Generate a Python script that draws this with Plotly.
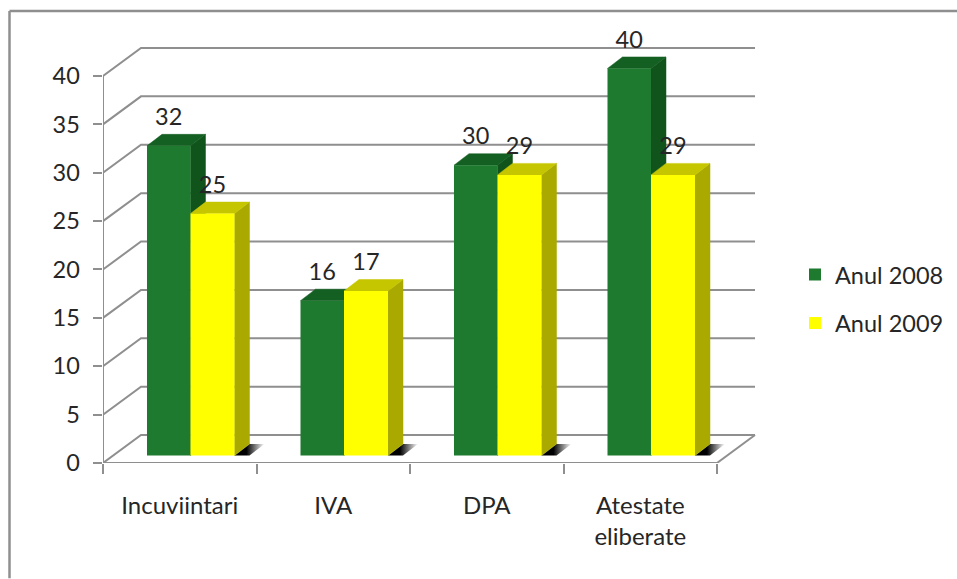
import plotly.graph_objects as go

categories = ["Incuviintari", "IVA", "DPA", "Atestate<br>eliberate"]
anul_2008 = [32, 16, 30, 40]
anul_2009 = [25, 17, 29, 29]
y_ticks = [0, 5, 10, 15, 20, 25, 30, 35, 40]

GRAY = "#8f8f8f"
TEXT = "#262626"
FONT = "Lato"
FS = 23.5

# oblique projection constants, in axis units
WALL_DX, WALL_DY = 0.2476, 2.89
BAR_DX, BAR_DY = 0.0977, 1.19
BASE = 0.774
G_OFF, G_W = -0.2134, 0.2834
Y_OFF, Y_W = 0.0700, 0.2866
SHADOW_W = 0.0977

# plot box in window pixels
L, R, T, B = 103, 957, 30, 463.5
W, H = R - L, B - T
X_MAX = -0.5 + W / 153.5
Y_MAX = H / 9.6875
px = lambda v: (v - L) / W
py = lambda v: (B - v) / H

fig = go.Figure()

# back wall + depth lines
gx, gy = [], []
for t in y_ticks:
    gx += [-0.5, -0.5 + WALL_DX, 3.5 + WALL_DX, None]
    gy += [t, t + WALL_DY, t + WALL_DY, None]
gx += [3.5, 3.5 + WALL_DX, None, -0.5, 3.5, None, -0.5, -0.5]
gy += [0, WALL_DY, None, 0, 0, None, 0, 40]
fig.add_trace(go.Scatter(x=gx, y=gy, mode="lines", line=dict(color=GRAY, width=2),
                         cliponaxis=False, showlegend=False, hoverinfo="skip"))


def poly(xs, ys, color):
    fig.add_trace(go.Scatter(x=xs + xs[:1], y=ys + ys[:1], mode="lines", fill="toself",
                             fillcolor=color, line=dict(color=color, width=0.5),
                             showlegend=False, hoverinfo="skip"))


# shadows on the floor
for i in range(len(categories)):
    x0 = i + Y_OFF + Y_W
    fig.add_trace(go.Scatter(
        x=[x0, x0 + BAR_DX, x0 + BAR_DX + SHADOW_W, x0 + SHADOW_W, x0],
        y=[BASE, BASE + BAR_DY, BASE + BAR_DY, BASE, BASE],
        mode="none", fill="toself", showlegend=False, hoverinfo="skip",
        fillgradient=dict(type="horizontal",
                          colorscale=[[0, "rgba(0,0,0,1)"], [0.4, "rgba(0,0,0,1)"], [1, "rgba(0,0,0,0)"]]),
    ))

# side and top faces of the bars
for vals, off, w, side, top in [
    (anul_2008, G_OFF, G_W, "#11541b", "#145f22"),
    (anul_2009, Y_OFF, Y_W, "#a9a900", "#c6c600"),
]:
    for i, v in enumerate(vals):
        xr = i + off + w
        xl = i + off
        yt = BASE + v
        poly([xr, xr + BAR_DX, xr + BAR_DX, xr], [BASE, BASE + BAR_DY, yt + BAR_DY, yt], side)
        poly([xl, xl + BAR_DX, xr + BAR_DX, xr], [yt, yt + BAR_DY, yt + BAR_DY, yt], top)

# front faces, on the category axis
fig.add_trace(go.Bar(x=categories, y=anul_2008, base=BASE, offset=G_OFF, width=G_W, name="Anul 2008",
                     marker=dict(color="#1e7a2e", line_width=0), xaxis="x2", legendgroup="a"))
fig.add_trace(go.Bar(x=categories, y=anul_2009, base=BASE, offset=Y_OFF, width=Y_W, name="Anul 2009",
                     marker=dict(color="#ffff00", line_width=0), xaxis="x2", legendgroup="b"))

# data labels
for vals, off, w in [(anul_2008, G_OFF, G_W), (anul_2009, Y_OFF, Y_W)]:
    fig.add_trace(go.Scatter(
        x=[i + off + w / 2 for i in range(len(vals))],
        y=[v + BASE + 2.75 for v in vals],
        text=[str(v) for v in vals], mode="text", textposition="middle center",
        textfont=dict(family=FONT, size=FS, color=TEXT),
        showlegend=False, hoverinfo="skip"))

axis_style = dict(showline=False, ticks="outside", ticklen=9.5,
                  tickwidth=2, tickcolor=GRAY, showgrid=False, zeroline=False)

fig.update_layout(
    width=957, height=579, autosize=False,
    margin=dict(l=L, t=T, r=957 - R, b=579 - B, pad=0),
    paper_bgcolor="white", plot_bgcolor="rgba(0,0,0,0)",
    barmode="overlay",
    xaxis=dict(range=[-0.5, X_MAX], visible=False),
    xaxis2=dict(overlaying="x", anchor="y", side="bottom", type="category", range=[-0.5, X_MAX],
                categoryorder="array", categoryarray=categories, tickson="boundaries",
                ticklabelstandoff=26,
                tickfont=dict(family=FONT, size=24, color=TEXT), **axis_style),
    yaxis=dict(range=[0, Y_MAX], tickvals=y_ticks, ticklabelstandoff=8,
               tickfont=dict(family=FONT, size=FS, color=TEXT), **axis_style),
    legend=dict(x=px(795), y=py(253), xanchor="left", yanchor="top", traceorder="grouped",
                tracegroupgap=15, entrywidth=90, entrywidthmode="pixels",
                font=dict(family=FONT, size=FS, color=TEXT), bgcolor="rgba(0,0,0,0)"),
    shapes=[dict(type="line", xref="paper", yref="paper", x0=px(9.5), x1=px(957), y0=py(11), y1=py(11),
                 line=dict(color=GRAY, width=2.5), layer="below"),
            dict(type="line", xref="paper", yref="paper", x0=px(9.5), x1=px(9.5), y0=py(11), y1=py(579),
                 line=dict(color=GRAY, width=2.5), layer="below")],
)

fig.write_html("out.html", config={"displayModeBar": False},
               post_script="document.body.style.margin='0';document.documentElement.style.overflow='hidden';")
